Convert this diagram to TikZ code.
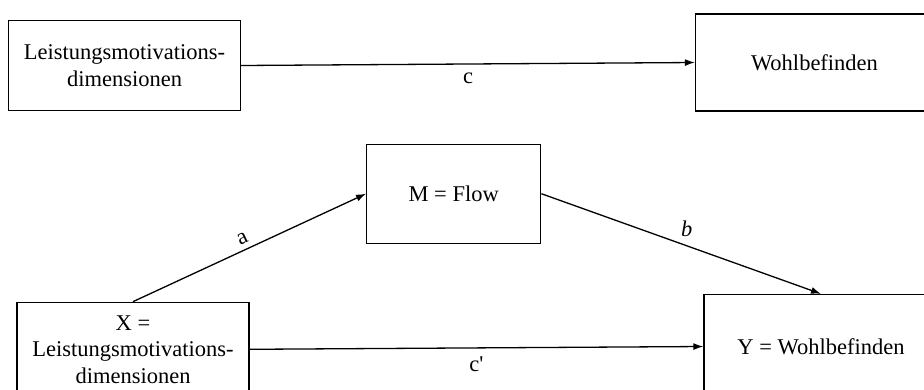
\documentclass[tikz,border=0pt]{standalone}
\usepackage{fontspec}
\setmainfont{Liberation Serif}
\usetikzlibrary{arrows.meta}
\begin{document}
\begin{tikzpicture}[x=1pt,y=-1pt,
  varbox/.style={draw=black,line width=1.3pt,rectangle,align=center,
    inner sep=0pt,font=\fontsize{22.5}{26.5}\selectfont},
  path/.style={draw=black,line width=1.3pt,-{Latex[length=10pt,width=7pt]}},
  coef/.style={font=\fontsize{22.5}{26.5}\selectfont,inner sep=2pt}]
\useasboundingbox (0,0) rectangle (924,389);
\clip (0,0) rectangle (924,389);

% total effect
\node[varbox,minimum width=232pt,minimum height=90pt] (x0) at (124.5,65.5)
  {Leistungsmotivations-\\dimensionen};
\node[varbox,minimum width=238pt,minimum height=97pt] (y0) at (814.5,62.5)
  {Wohlbefinden};
\draw[path] (x0.east) -- node[coef,below=6pt] {c} (y0.west);

% mediation model
\node[varbox,minimum width=174pt,minimum height=99pt] (m) at (453.7,193.7)
  {M = Flow};
\node[varbox,minimum width=232pt,minimum height=94pt] (x) at (133,349.3)
  {X =\\Leistungsmotivations-\\dimensionen};
\node[varbox,minimum width=234pt,minimum height=104pt] (y) at (821,346.5)
  {Y = Wohlbefinden};

\draw[path] (x.north) -- node[coef,pos=0.49,above=3pt,sloped] {a} (m.west);
\draw[path] (m.east) -- node[coef,pos=0.52,above=6pt] {\textit{b}} (y.north);
\draw[path] (x.east) -- node[coef,below=6pt] {c\textquotesingle} (y.west);
\end{tikzpicture}
\end{document}
